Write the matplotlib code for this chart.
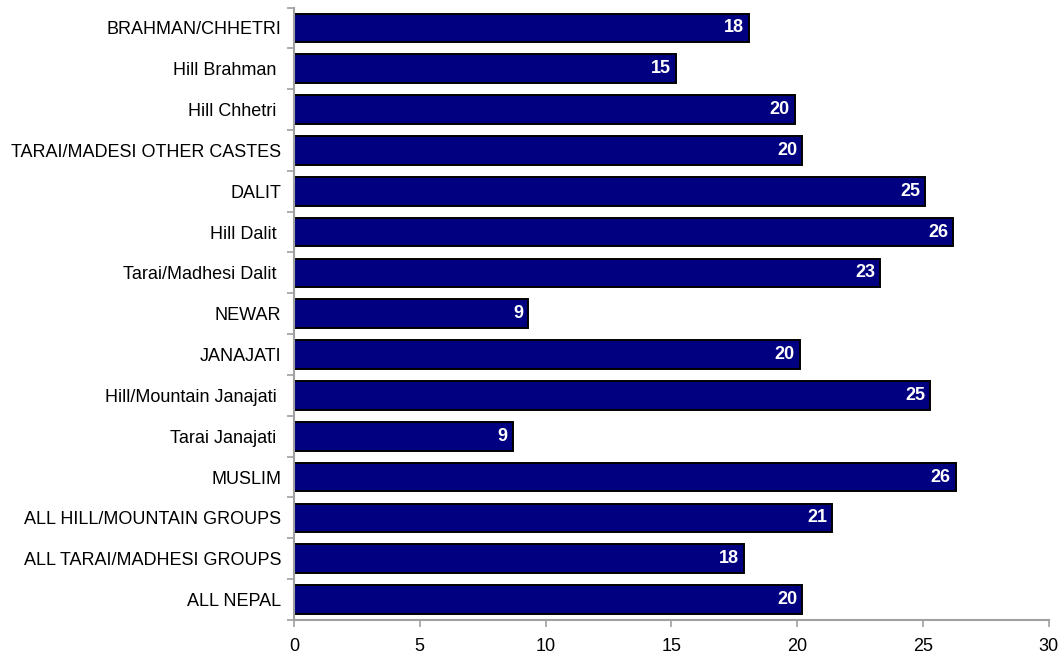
import matplotlib
matplotlib.use("Agg")
import matplotlib.pyplot as plt

plt.rcParams["font.family"] = ["Liberation Sans", "DejaVu Sans"]

groups = [
    "BRAHMAN/CHHETRI", "Hill Brahman ", "Hill Chhetri ", "TARAI/MADESI OTHER CASTES",
    "DALIT", "Hill Dalit ", "Tarai/Madhesi Dalit ", "NEWAR", "JANAJATI",
    "Hill/Mountain Janajati ", "Tarai Janajati ", "MUSLIM",
    "ALL HILL/MOUNTAIN GROUPS", "ALL TARAI/MADHESI GROUPS", "ALL NEPAL",
]
values = [18.1, 15.2, 19.9, 20.2, 25.1, 26.2, 23.3, 9.3, 20.1, 25.3, 8.7, 26.3, 21.4, 17.9, 20.2]
x_ticks = [0, 5, 10, 15, 20, 25, 30]

fig = plt.figure(figsize=(10.64, 6.58), dpi=100)
ax = fig.add_axes([0.2763, 0.0578, 0.9856 - 0.2763, 0.9886 - 0.0578])

pos = list(range(len(groups)))
bars = ax.barh(pos, values, height=0.7, color="#000080", edgecolor="black", linewidth=1.4)

for b, v in zip(bars, values):
    ax.text(b.get_width() - 0.2, b.get_y() + b.get_height() / 2, f"{v:.0f}",
            ha="right", va="center", color="white", fontsize=13, fontweight="bold")

ax.set_ylim(len(groups) - 0.5, -0.5)
ax.set_xlim(0, 30)
ax.set_xticks(x_ticks)
# boundary ticks between categories, names centred on each bar
ax.set_yticks([p - 0.5 for p in pos] + [len(groups) - 0.5])
ax.set_yticklabels([])
ax.set_yticks(pos, minor=True)
ax.set_yticklabels(groups, minor=True)
ax.tick_params(axis="y", which="minor", length=0, pad=9, labelsize=13)
ax.tick_params(axis="y", which="major", length=5, color="#a0a0a0", width=1.2)
ax.tick_params(axis="x", length=5, color="#a0a0a0", width=1.2, labelsize=13, pad=8)

for side in ("top", "right"):
    ax.spines[side].set_visible(False)
for side in ("left", "bottom"):
    ax.spines[side].set_color("#a0a0a0")
    ax.spines[side].set_linewidth(1.5)

fig.savefig("out.png", dpi=100)
